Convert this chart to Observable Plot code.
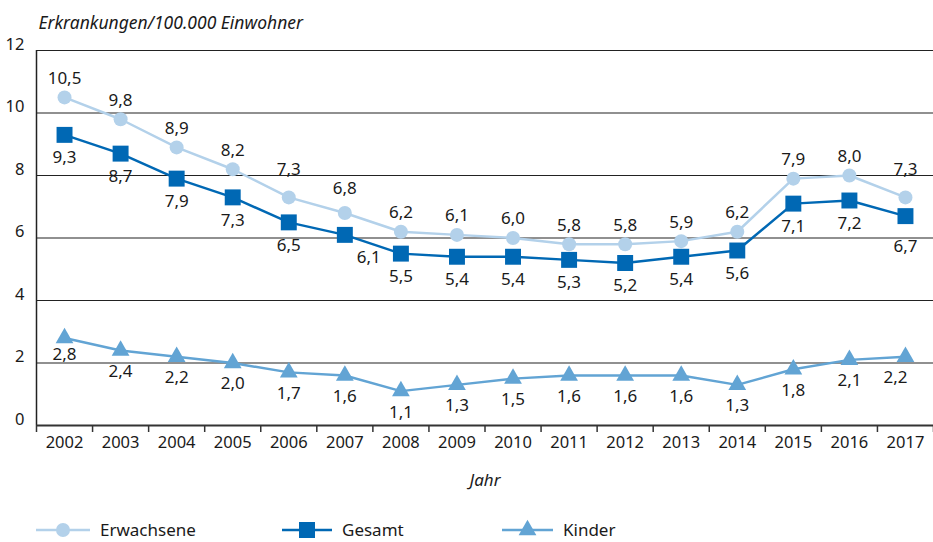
<!DOCTYPE html>
<html>
<head>
<meta charset="utf-8">
<script src="https://cdn.jsdelivr.net/npm/d3@7"></script>
<script src="https://cdn.jsdelivr.net/npm/@observablehq/plot@0.6"></script>
<style>
  body { margin: 0; background: #fff; font-family: "Noto Sans", sans-serif; }
  #wrap { position: relative; width: 933px; height: 542px; }
  #legend { position: absolute; left: 0; top: 518px; width: 933px; height: 24px; }
</style>
</head>
<body>
<div id="wrap">
  <div id="chart"></div>
  <svg id="legend" width="933" height="24"></svg>
</div>
<script>
const years = [2002, 2003, 2004, 2005, 2006, 2007, 2008, 2009, 2010, 2011, 2012, 2013, 2014, 2015, 2016, 2017];
const erwachsene = [10.5, 9.8, 8.9, 8.2, 7.3, 6.8, 6.2, 6.1, 6.0, 5.8, 5.8, 5.9, 6.2, 7.9, 8.0, 7.3];
const gesamt = [9.3, 8.7, 7.9, 7.3, 6.5, 6.1, 5.5, 5.4, 5.4, 5.3, 5.2, 5.4, 5.6, 7.1, 7.2, 6.7];
const kinder = [2.8, 2.4, 2.2, 2.0, 1.7, 1.6, 1.1, 1.3, 1.5, 1.6, 1.6, 1.6, 1.3, 1.8, 2.1, 2.2];
const seriesNames = ["Erwachsene", "Gesamt", "Kinder"];
const yTicks = [0, 2, 4, 6, 8, 10, 12];
const gridLines = [2, 4, 6, 8, 10, 12];
const titleText = "Erkrankungen/100.000 Einwohner";
const xLabel = "Jahr";

const colors = {Erwachsene: "#b3d1ea", Gesamt: "#0068b4", Kinder: "#62a4d4"};
const FONT = "Noto Sans, sans-serif";
const LBL = 17;
const INK = "#1a1a1a";
const fmt = v => v.toFixed(1).replace(".", ",");

const rows = (name, vals) => years.map((yr, i) => ({year: yr, value: vals[i], series: name, i}));
const dE = rows("Erwachsene", erwachsene);
const dG = rows("Gesamt", gesamt);
const dK = rows("Kinder", kinder);
const boundaries = years.map(y => y - 0.5).concat([years[years.length - 1] + 0.5]);
const first = years[0], last = years[years.length - 1];

// label placement rules (avoid gridlines / lines)
const eDy = d => (Math.abs(d.value - 7.3) < 0.01 ? -28 : (Math.abs(d.value - 6.8) < 0.01 ? -24 : -19));
const gDx = d => (d.year === 2007 ? 24 : 0);
const gDy = d => (d.year === last ? 30 : 23);
const kDy = d => (d.year === first ? 17 : 21);
const kDx = d => (d.year === last ? -10 : 0);

function labels(data, dxf, dyf) {
  // group by offset so each text mark has constant dx/dy
  const groups = d3.groups(data, d => dxf(d) + "|" + dyf(d));
  return groups.map(([k, g]) => Plot.text(g, {
    x: "year", y: "value", text: d => fmt(d.value),
    dx: dxf(g[0]), dy: dyf(g[0]), fontSize: LBL, fill: INK
  }));
}

const chart = Plot.plot({
  width: 933,
  height: 505,
  marginLeft: 36,
  marginRight: 0,
  marginTop: 50,
  marginBottom: 80,
  style: {fontFamily: FONT, fontSize: "16px", color: INK, background: "#fff"},
  x: {type: "linear", domain: [boundaries[0], boundaries[boundaries.length - 1]], label: null},
  y: {domain: [0, 12], label: null},
  marks: [
    Plot.ruleY(gridLines, {stroke: "#222", strokeWidth: 1.2}),
    Plot.ruleX([boundaries[0]], {y1: 0, y2: 12, stroke: "#222", strokeWidth: 1.5}),
    Plot.ruleY([0], {stroke: "#333", strokeWidth: 2}),
    Plot.axisX({ticks: boundaries, tickSize: 7, tickFormat: () => "", stroke: "#333", strokeWidth: 1.5}),
    Plot.axisX({ticks: years, tickSize: 0, tickPadding: 11, tickFormat: d => String(d), fontSize: 16.5, label: null}),
    Plot.axisY({ticks: yTicks, tickSize: 0, tickPadding: 12, dy: -6, fontSize: 16.5, label: null}),
    Plot.line(dE, {x: "year", y: "value", stroke: colors.Erwachsene, strokeWidth: 2.5}),
    Plot.line(dG, {x: "year", y: "value", stroke: colors.Gesamt, strokeWidth: 2.5}),
    Plot.line(dK, {x: "year", y: "value", stroke: colors.Kinder, strokeWidth: 2.5}),
    Plot.dot(dE, {x: "year", y: "value", r: 7, fill: colors.Erwachsene, symbol: "circle"}),
    Plot.dot(dG, {x: "year", y: "value", r: 9, fill: colors.Gesamt, symbol: "square"}),
    Plot.dot(dK, {x: "year", y: "value", r: 6.6, fill: colors.Kinder, symbol: "triangle"}),
    ...labels(dE, () => 0, eDy),
    ...labels(dG, gDx, gDy),
    ...labels(dK, kDx, kDy),
    Plot.text([titleText], {frameAnchor: "top-left", dx: 2, dy: -34, textAnchor: "start", fontStyle: "italic", fontSize: 17.5, fill: INK}),
    Plot.text([xLabel], {frameAnchor: "bottom", dy: 60, fontStyle: "italic", fontSize: 17, fill: INK})
  ]
});
document.getElementById("chart").appendChild(chart);

// Legend
const leg = d3.select("#legend");
const legendLayout = [
  {name: seriesNames[0], x0: 36, x1: 90, symbol: d3.symbolCircle, size: Math.PI * 49},
  {name: seriesNames[1], x0: 282, x1: 332, symbol: d3.symbolSquare, size: 256},
  {name: seriesNames[2], x0: 502, x1: 553, symbol: d3.symbolTriangle, size: Math.PI * 6.6 * 6.6}
];
const cy = 12;
legendLayout.forEach(it => {
  leg.append("line").attr("x1", it.x0).attr("x2", it.x1).attr("y1", cy).attr("y2", cy)
    .attr("stroke", colors[it.name]).attr("stroke-width", 2.5);
  leg.append("path").attr("d", d3.symbol(it.symbol, it.size)())
    .attr("transform", `translate(${(it.x0 + it.x1) / 2},${cy})`).attr("fill", colors[it.name]);
  leg.append("text").attr("x", it.x1 + 10).attr("y", cy).attr("dy", "0.35em")
    .attr("font-family", FONT).attr("font-size", LBL).attr("fill", INK).text(it.name);
});
</script>
</body>
</html>
